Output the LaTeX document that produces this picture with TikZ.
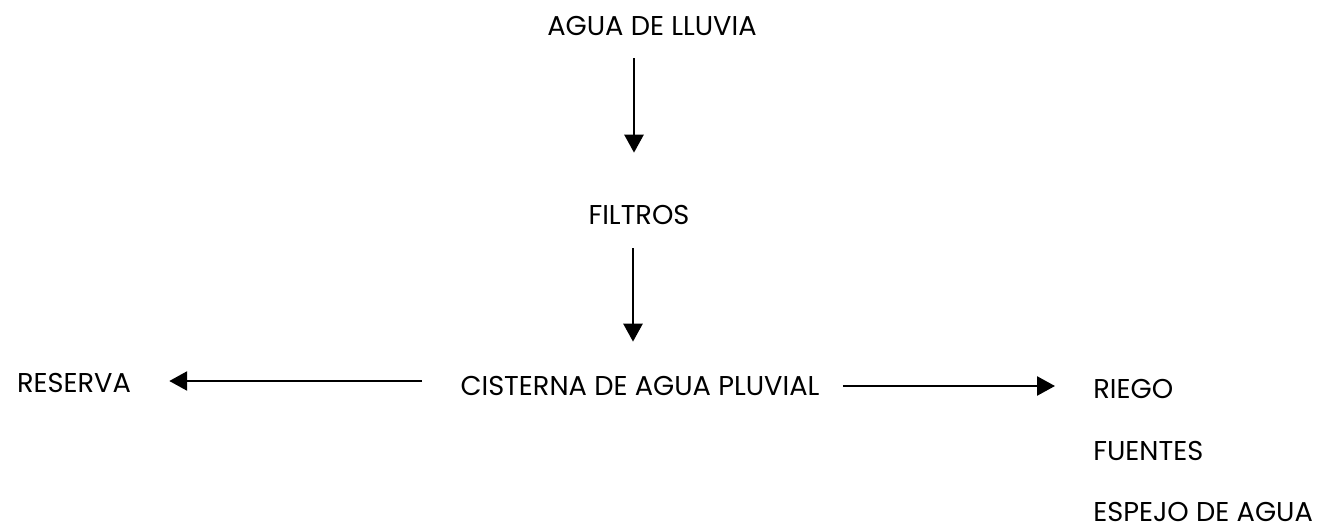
\documentclass[tikz,border=0pt]{standalone}
\usepackage{fontspec}
\setmainfont{Poppins}
\usetikzlibrary{arrows.meta,positioning}

\begin{document}
\begin{tikzpicture}[
  x=0.02cm, y=-0.02cm,
  label/.style={inner sep=0pt, font=\fontsize{15.5}{18}\selectfont, text height=0.36cm, text depth=0pt},
  line/.style={-{Triangle[length=0.36cm,width=0.38cm]}, line width=1.5pt}
]
\useasboundingbox (0,0) rectangle (1323,531);
\node[label] (lluvia) at (652,26) {AGUA DE LLUVIA};
\node[label] (filtros) at (639,215) {FILTROS};
\node[label] (cisterna) at (640,386) {CISTERNA DE AGUA PLUVIAL};
\node[label] (reserva) at (74,383) {RESERVA};
\node[label, anchor=west] (riego) at (1093,389) {RIEGO};
\node[label, anchor=west] (fuentes) at (1093,451) {FUENTES};
\node[label, anchor=west] (espejo) at (1093,512) {ESPEJO DE AGUA};

\draw[line, shorten <=0.46cm, shorten >=1.06cm] ([xshift=-0.36cm]lluvia.south) -- ([xshift=-0.36cm]lluvia.south |- filtros.north);
\draw[line, shorten <=0.48cm, shorten >=0.7cm] ([xshift=-0.12cm]filtros.south) -- ([xshift=-0.12cm]filtros.south |- cisterna.north);
\draw[line, shorten <=0.76cm, shorten >=0.76cm] ([yshift=0.1cm]cisterna.west) -- ([yshift=0.1cm]cisterna.west -| reserva.east);
\draw[line, shorten <=0.46cm, shorten >=0.76cm] (cisterna.east) -- (cisterna.east -| riego.west);
\end{tikzpicture}
\end{document}
